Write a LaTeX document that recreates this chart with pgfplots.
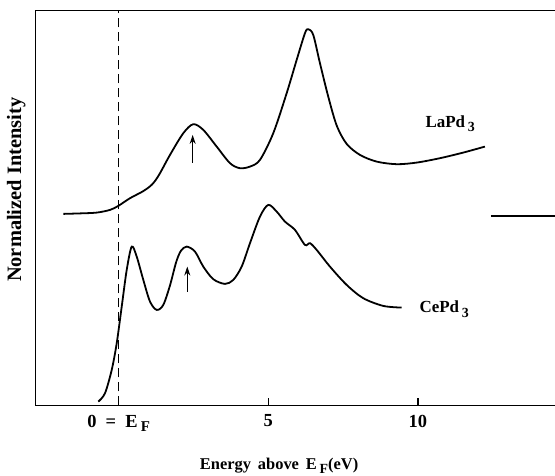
\documentclass[border=0pt]{standalone}
\usepackage{pgfplots}
\pgfplotsset{compat=1.18}
\usepackage{fontspec}
\setmainfont{Liberation Serif}
\usetikzlibrary{arrows.meta}
\newcommand\lsub[2]{\raisebox{-0.55ex}{\fontsize{#1}{#1}\selectfont #2}}

\begin{document}
\begin{tikzpicture}
\begin{axis}[
  scale only axis, width=519.6bp, height=394.9bp,
  xmin=-2.78, xmax=14.58, ymin=0, ymax=394.9,
  axis x line=bottom, axis y line=left,
  axis line style={-, line width=1.2pt},
  xtick={0,5,10},
  xticklabels={{0\enspace=\enspace E\,\lsub{15}{F}},5,10},
  ytick=\empty,
  xtick align=inside, major tick length=7bp,
  major tick style={line width=1.2pt, black},
  xticklabel style={font=\bfseries\fontsize{18.5}{20}\selectfont, yshift=-6bp},
  xlabel={Energy\, above\, E\,\lsub{14}{F}(eV)},
  ylabel={Normalized Intensity},
  xlabel style={font=\bfseries\fontsize{16.5}{18}\selectfont, at={(axis description cs:0.469,-0.162)}, anchor=base},
  ylabel style={font=\bfseries\fontsize{20.5}{22}\selectfont, at={(axis description cs:-0.037,0.546)}, anchor=center},
  clip=false,
]
% Fermi level
\addplot[black, line width=1.6pt, dash pattern=on 9bp off 5bp] coordinates {(0,0) (0,394.9)};

% LaPd3
\addplot[black, line width=1.8pt, smooth, tension=0.5] coordinates {
(-1.847,191.5) (-1.289,192.0) (-0.731,192.8) (-0.287,195.5) (-0.010,199.5)
(0.381,207.2) (0.825,214.3) (1.120,221.0) (1.350,230.5) (1.717,250.5)
(2.161,272.2) (2.495,281.2) (2.829,275.5) (3.277,258.8) (3.721,242.2)
(4.055,237.2) (4.389,238.8) (4.723,245.5) (5.167,272.2) (5.615,312.2)
(5.949,345.5) (6.226,372.2) (6.336,376.2) (6.503,370.5) (6.727,342.2)
(7.004,308.8) (7.285,280.0) (7.619,261.5) (8.063,250.5) (8.621,243.8)
(9.289,241.2) (9.957,242.8) (10.735,247.2) (11.513,252.8) (12.238,258.8)
};

% segment at right edge
\addplot[black, line width=1.8pt] coordinates {(12.44,189.5) (14.58,189.5)};

% CePd3
\addplot[black, line width=1.8pt, smooth, tension=0.5] coordinates {
(-0.678,3.8) (-0.454,12.2) (-0.230,35.5) (-0.063,62.2) (0.104,98.8)
(0.271,135.5) (0.438,158.8) (0.605,148.8) (0.825,125.5) (1.049,103.8)
(1.273,95.5) (1.493,100.5) (1.717,120.0) (1.920,143.0) (2.080,154.5) (2.275,158.8)
(2.552,153.8) (2.829,138.8) (3.163,126.2) (3.554,121.5) (3.831,125.5)
(4.112,138.8) (4.389,162.2) (4.723,188.8) (5.000,200.5) (5.281,193.8)
(5.558,183.8) (5.892,175.5) (6.226,160.5) (6.393,162.2) (6.617,155.5)
(7.061,138.8) (7.619,120.5) (8.173,107.2) (8.841,99.5) (9.456,97.8)
};

% top frame line
\draw[line width=1.2pt] (rel axis cs:0,1) -- (rel axis cs:1,1);

% arrows
\draw[-{Stealth[length=9bp,width=6bp]}, line width=1.1pt] (axis cs:2.475,242.5) -- (axis cs:2.475,270.5);
\draw[-{Stealth[length=9bp,width=6bp]}, line width=1.1pt] (axis cs:2.295,113.8) -- (axis cs:2.295,138.8);

% labels
\node[anchor=base west, font=\bfseries\fontsize{17}{19}\selectfont, inner sep=0pt] at (axis cs:10.25,278.2) {LaPd\,\lsub{14}{3}};
\node[anchor=base west, font=\bfseries\fontsize{17}{19}\selectfont, inner sep=0pt] at (axis cs:10.05,92.5) {CePd\,\lsub{14}{3}};
\end{axis}
\pgfresetboundingbox
\path[use as bounding box] (-35.4bp,-70.5bp) rectangle (519.6bp,405.4bp);
\end{tikzpicture}
\end{document}
